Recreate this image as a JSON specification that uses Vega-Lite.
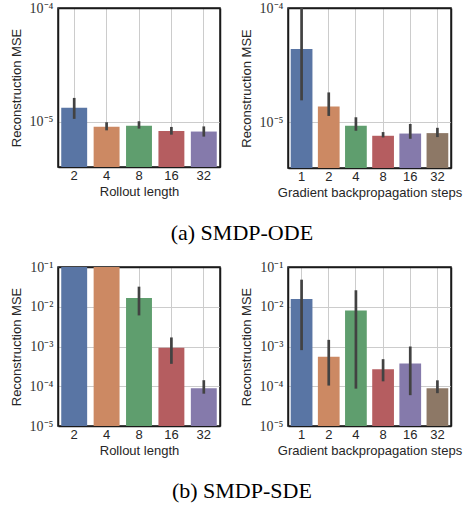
{
  "$schema": "https://vega.github.io/schema/vega-lite/v6.json",
  "background": "white",
  "padding": {"left": 9, "top": 0, "right": 2, "bottom": 2},
  "config": {
    "view": {"stroke": "#1a1a1a", "strokeWidth": 1.5},
    "axis": {
      "labelFont": "Liberation Sans", "labelFontSize": 13, "labelColor": "#262626",
      "titleFont": "Liberation Sans", "titleFontSize": 13, "titleFontWeight": "normal", "titleColor": "#262626",
      "gridColor": "#cccccc", "gridWidth": 1, "domain": true, "domainColor": "#1a1a1a", "domainWidth": 1.5, "ticks": false
    },
    "axisY": {"labelFont": "Liberation Serif", "labelFontSize": 14, "labelColor": "#333333", "labelPadding": 5, "titlePadding": 6},
    "axisX": {"labelAngle": 0, "labelPadding": 2, "titlePadding": 3, "bandPosition": 0.5, "grid": true},
    "title": {"font": "Liberation Serif", "fontSize": 22, "fontWeight": "normal", "color": "black", "anchor": "middle", "offset": 23, "dx": 6}
  },
  "datasets": {
    "odeRoll": [
      {"k": "2", "mse": 1.33e-5, "lo": 1.06e-5, "hi": 1.62e-5},
      {"k": "4", "mse": 9.04e-6, "lo": 8.4e-6, "hi": 9.9e-6},
      {"k": "8", "mse": 9.2e-6, "lo": 8.7e-6, "hi": 1.01e-5},
      {"k": "16", "mse": 8.3e-6, "lo": 7.7e-6, "hi": 9.0e-6},
      {"k": "32", "mse": 8.2e-6, "lo": 7.4e-6, "hi": 9.1e-6}
    ],
    "odeGrad": [
      {"k": "1", "mse": 4.39e-5, "lo": 1.56e-5, "hi": 1.3e-4},
      {"k": "2", "mse": 1.38e-5, "lo": 1.14e-5, "hi": 1.83e-5},
      {"k": "4", "mse": 9.35e-6, "lo": 8.46e-6, "hi": 1.11e-5},
      {"k": "8", "mse": 7.65e-6, "lo": 7.4e-6, "hi": 8.24e-6},
      {"k": "16", "mse": 8.0e-6, "lo": 7.2e-6, "hi": 9.7e-6},
      {"k": "32", "mse": 8.07e-6, "lo": 7.45e-6, "hi": 8.98e-6}
    ],
    "sdeRoll": [
      {"k": "2", "mse": 0.3, "lo": 0.15, "hi": 0.5},
      {"k": "4", "mse": 0.25, "lo": 0.15, "hi": 0.5},
      {"k": "8", "mse": 1.65e-2, "lo": 6.05e-3, "hi": 3.2e-2},
      {"k": "16", "mse": 9.25e-4, "lo": 3.66e-4, "hi": 1.69e-3},
      {"k": "32", "mse": 8.9e-5, "lo": 6.5e-5, "hi": 1.42e-4}
    ],
    "sdeGrad": [
      {"k": "1", "mse": 1.56e-2, "lo": 8.1e-4, "hi": 4.8e-2},
      {"k": "2", "mse": 5.5e-4, "lo": 1.04e-4, "hi": 1.47e-3},
      {"k": "4", "mse": 8.1e-3, "lo": 8.7e-5, "hi": 2.6e-2},
      {"k": "8", "mse": 2.66e-4, "lo": 1.33e-4, "hi": 4.8e-4},
      {"k": "16", "mse": 3.76e-4, "lo": 5.96e-5, "hi": 1.0e-3},
      {"k": "32", "mse": 8.9e-5, "lo": 6.7e-5, "hi": 1.41e-4}
    ]
  },
  "resolve": {"scale": {"x": "independent", "y": "independent", "color": "independent"}},
  "spacing": 15,
  "vconcat": [
    {
      "title": {"text": "(a) SMDP-ODE", "orient": "bottom"},
      "spacing": 18,
      "resolve": {"scale": {"x": "independent", "y": "independent", "color": "independent"}},
      "hconcat": [
        {
          "width": 162, "height": 159,
          "data": {"name": "odeRoll"},
          "resolve": {"axis": {"x": "independent", "y": "independent"}},
          "encoding": {
            "x": {"field": "k", "type": "nominal", "sort": null, "title": "Rollout length",
                  "scale": {"paddingInner": 0.2, "paddingOuter": 0.1}}
          },
          "layer": [
            {"mark": {"type": "bar", "clip": true},
             "encoding": {
               "y": {"field": "mse", "type": "quantitative", "title": "Reconstruction MSE", "stack": null,
                     "scale": {"type": "log", "domain": [4e-6, 1e-4], "nice": false},
                     "axis": {"values": [1e-5, 1e-4], "grid": true, "labelExpr": "'10⁻' + ['⁰','¹','²','³','⁴','⁵','⁶'][round(-log(datum.value)/LN10)]"}},
               "y2": {"value": "height"},
               "color": {"field": "k", "type": "nominal", "sort": null, "legend": null,
                         "scale": {"domain": ["2", "4", "8", "16", "32"], "range": ["#5975a4", "#cc8963", "#5f9e6e", "#b55d60", "#857aab"]}}
             }},
            {"mark": {"type": "rule", "clip": true, "strokeWidth": 2.7, "color": "#424242"},
             "encoding": {
               "x": {"field": "k", "type": "nominal", "sort": null, "axis": {"orient": "top", "labels": false, "title": null, "grid": false, "ticks": false, "domain": true, "domainColor": "#1a1a1a", "domainWidth": 1.5}},
               "y": {"field": "lo", "type": "quantitative", "axis": {"orient": "right", "labels": false, "title": null, "grid": false, "ticks": false, "domain": true, "domainColor": "#1a1a1a", "domainWidth": 1.5}},
               "y2": {"field": "hi"}}}
          ]
        },
        {
          "width": 163, "height": 160,
          "data": {"name": "odeGrad"},
          "resolve": {"axis": {"x": "independent", "y": "independent"}},
          "encoding": {
            "x": {"field": "k", "type": "nominal", "sort": null, "title": "Gradient backpropagation steps",
                  "scale": {"paddingInner": 0.2, "paddingOuter": 0.1}}
          },
          "layer": [
            {"mark": {"type": "bar", "clip": true},
             "encoding": {
               "y": {"field": "mse", "type": "quantitative", "title": "Reconstruction MSE", "stack": null,
                     "scale": {"type": "log", "domain": [4e-6, 1e-4], "nice": false},
                     "axis": {"values": [1e-5, 1e-4], "grid": true, "labelExpr": "'10⁻' + ['⁰','¹','²','³','⁴','⁵','⁶'][round(-log(datum.value)/LN10)]"}},
               "y2": {"value": "height"},
               "color": {"field": "k", "type": "nominal", "sort": null, "legend": null,
                         "scale": {"domain": ["1", "2", "4", "8", "16", "32"], "range": ["#5975a4", "#cc8963", "#5f9e6e", "#b55d60", "#857aab", "#8d7866"]}}
             }},
            {"mark": {"type": "rule", "clip": true, "strokeWidth": 2.7, "color": "#424242"},
             "encoding": {
               "x": {"field": "k", "type": "nominal", "sort": null, "axis": {"orient": "top", "labels": false, "title": null, "grid": false, "ticks": false, "domain": true, "domainColor": "#1a1a1a", "domainWidth": 1.5}},
               "y": {"field": "lo", "type": "quantitative", "axis": {"orient": "right", "labels": false, "title": null, "grid": false, "ticks": false, "domain": true, "domainColor": "#1a1a1a", "domainWidth": 1.5}},
               "y2": {"field": "hi"}}}
          ]
        }
      ]
    },
    {
      "title": {"text": "(b) SMDP-SDE", "orient": "bottom"},
      "spacing": 18,
      "resolve": {"scale": {"x": "independent", "y": "independent", "color": "independent"}},
      "hconcat": [
        {
          "width": 162, "height": 159,
          "data": {"name": "sdeRoll"},
          "resolve": {"axis": {"x": "independent", "y": "independent"}},
          "encoding": {
            "x": {"field": "k", "type": "nominal", "sort": null, "title": "Rollout length",
                  "scale": {"paddingInner": 0.2, "paddingOuter": 0.1}}
          },
          "layer": [
            {"mark": {"type": "bar", "clip": true},
             "encoding": {
               "y": {"field": "mse", "type": "quantitative", "title": "Reconstruction MSE", "stack": null,
                     "scale": {"type": "log", "domain": [1e-5, 1e-1], "nice": false},
                     "axis": {"values": [1e-5, 1e-4, 1e-3, 1e-2, 1e-1], "grid": true, "labelExpr": "'10⁻' + ['⁰','¹','²','³','⁴','⁵','⁶'][round(-log(datum.value)/LN10)]"}},
               "y2": {"value": "height"},
               "color": {"field": "k", "type": "nominal", "sort": null, "legend": null,
                         "scale": {"domain": ["2", "4", "8", "16", "32"], "range": ["#5975a4", "#cc8963", "#5f9e6e", "#b55d60", "#857aab"]}}
             }},
            {"mark": {"type": "rule", "clip": true, "strokeWidth": 2.7, "color": "#424242"},
             "encoding": {
               "x": {"field": "k", "type": "nominal", "sort": null, "axis": {"orient": "top", "labels": false, "title": null, "grid": false, "ticks": false, "domain": true, "domainColor": "#1a1a1a", "domainWidth": 1.5}},
               "y": {"field": "lo", "type": "quantitative", "axis": {"orient": "right", "labels": false, "title": null, "grid": false, "ticks": false, "domain": true, "domainColor": "#1a1a1a", "domainWidth": 1.5}},
               "y2": {"field": "hi"}}}
          ]
        },
        {
          "width": 163, "height": 159,
          "data": {"name": "sdeGrad"},
          "resolve": {"axis": {"x": "independent", "y": "independent"}},
          "encoding": {
            "x": {"field": "k", "type": "nominal", "sort": null, "title": "Gradient backpropagation steps",
                  "scale": {"paddingInner": 0.2, "paddingOuter": 0.1}}
          },
          "layer": [
            {"mark": {"type": "bar", "clip": true},
             "encoding": {
               "y": {"field": "mse", "type": "quantitative", "title": "Reconstruction MSE", "stack": null,
                     "scale": {"type": "log", "domain": [1e-5, 1e-1], "nice": false},
                     "axis": {"values": [1e-5, 1e-4, 1e-3, 1e-2, 1e-1], "grid": true, "labelExpr": "'10⁻' + ['⁰','¹','²','³','⁴','⁵','⁶'][round(-log(datum.value)/LN10)]"}},
               "y2": {"value": "height"},
               "color": {"field": "k", "type": "nominal", "sort": null, "legend": null,
                         "scale": {"domain": ["1", "2", "4", "8", "16", "32"], "range": ["#5975a4", "#cc8963", "#5f9e6e", "#b55d60", "#857aab", "#8d7866"]}}
             }},
            {"mark": {"type": "rule", "clip": true, "strokeWidth": 2.7, "color": "#424242"},
             "encoding": {
               "x": {"field": "k", "type": "nominal", "sort": null, "axis": {"orient": "top", "labels": false, "title": null, "grid": false, "ticks": false, "domain": true, "domainColor": "#1a1a1a", "domainWidth": 1.5}},
               "y": {"field": "lo", "type": "quantitative", "axis": {"orient": "right", "labels": false, "title": null, "grid": false, "ticks": false, "domain": true, "domainColor": "#1a1a1a", "domainWidth": 1.5}},
               "y2": {"field": "hi"}}}
          ]
        }
      ]
    }
  ]
}
